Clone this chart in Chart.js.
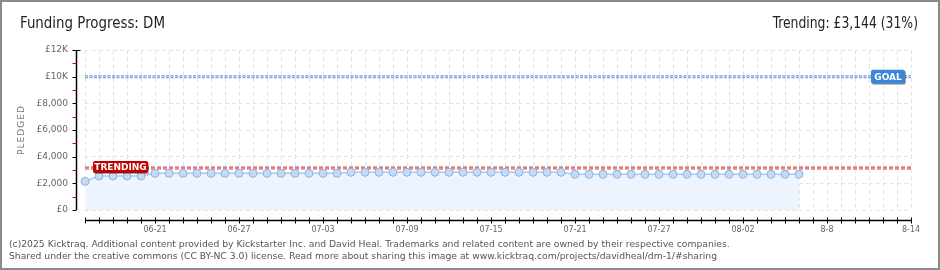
<!DOCTYPE html>
<html>
<head>
<meta charset="utf-8">
<script src="https://cdn.jsdelivr.net/npm/chart.js@4"></script>
<style>
  body { margin: 0; background: #fff; }
  #wrap { position: relative; width: 940px; height: 270px; overflow: hidden; }
  #chart { position: absolute; left: 0; top: 0; }
  #frame { position: absolute; left: 0; top: 0; width: 940px; height: 270px; box-sizing: border-box; border: 2px solid #8a8a8a; pointer-events: none; }
  .txt { position: absolute; white-space: nowrap; }
  #title { left: 20px; top: 13px; font: 16px "DejaVu Sans Condensed", sans-serif; color: #222; transform: scaleX(0.93); transform-origin: left center; }
  #trend { right: 22px; top: 13px; font: 16px "DejaVu Sans Condensed", sans-serif; color: #222; transform: scaleX(0.86); transform-origin: right center; }
  .foot { left: 9px; font: 9.5px "DejaVu Sans", sans-serif; color: #555; transform: scaleX(0.97); transform-origin: left center; }
</style>
</head>
<body>
<div id="wrap">
  <canvas id="chart" width="940" height="270"></canvas>
  <div id="title" class="txt">Funding Progress: DM</div>
  <div id="trend" class="txt">Trending: £3,144 (31%)</div>
  <div class="txt foot" style="top:238px">(c)2025 Kicktraq. Additional content provided by Kickstarter Inc. and David Heal. Trademarks and related content are owned by their respective companies.</div>
  <div class="txt foot" style="top:250px">Shared under the creative commons (CC BY-NC 3.0) license. Read more about sharing this image at www.kicktraq.com/projects/davidheal/dm-1/#sharing</div>
  <div id="frame"></div>
</div>
<script>
// daily categories, 06-16 .. 08-14
const days = [];
for (let d = new Date(2025, 5, 16); days.length < 60; d.setDate(d.getDate() + 1)) {
    days.push(String(d.getMonth() + 1).padStart(2, '0') + '-' + String(d.getDate()).padStart(2, '0'));
}

const xTickDays = ['06-21', '06-27', '07-03', '07-09', '07-15', '07-21', '07-27', '08-02', '08-08', '08-14'];
const xTickText = ['06-21', '06-27', '07-03', '07-09', '07-15', '07-21', '07-27', '08-02', '8-8', '8-14'];

const yTickValues = [0, 2000, 4000, 6000, 8000, 10000, 12000];
const yTickText = ['£0', '£2,000', '£4,000', '£6,000', '£8,000', '£10K', '£12K'];

// pledged per day (£)
const pledged = [
    2150, 2550, 2550, 2550, 2550, 2750, 2750, 2750, 2750, 2750,
    2750, 2750, 2750, 2750, 2750, 2750, 2750, 2750, 2750, 2830,
    2830, 2830, 2830, 2830, 2830, 2830, 2830, 2830, 2830, 2830,
    2830, 2830, 2830, 2830, 2830, 2680, 2680, 2680, 2680, 2680,
    2680, 2680, 2680, 2680, 2680, 2680, 2680, 2680, 2680, 2680,
    2680, 2680
];

const goal = 10000;
const trending = 3144;

const first = days[0], last = days[days.length - 1];
const flatLine = (v) => [{ x: first, y: v }, { x: last, y: v }];

const decor = {
    id: 'decor',
    afterDraw(chart) {
        const ctx = chart.ctx;
        const a = chart.chartArea;
        const xs = chart.scales.x, ys = chart.scales.y;
        ctx.save();

        // y axis line + ticks
        const axX = a.left - 8.5;
        ctx.strokeStyle = '#000';
        ctx.lineWidth = 1.5;
        ctx.beginPath();
        ctx.moveTo(axX, a.top); ctx.lineTo(axX, a.bottom);
        ctx.stroke();
        for (let v = 0; v <= 12000; v += 1000) {
            const y = Math.round(ys.getPixelForValue(v)) + 0.5;
            ctx.strokeStyle = v % 2000 === 0 ? '#000' : '#d40000';
            ctx.lineWidth = 1;
            ctx.beginPath();
            ctx.moveTo(axX - 4, y); ctx.lineTo(axX + (v === 12000 ? 4 : 0), y);
            ctx.stroke();
        }

        // x axis line + ticks
        const axY = a.bottom + 10.5;
        ctx.strokeStyle = '#000';
        ctx.lineWidth = 1.5;
        ctx.beginPath();
        ctx.moveTo(a.left, axY); ctx.lineTo(a.right, axY);
        ctx.stroke();
        ctx.lineWidth = 1;
        days.forEach((d, i) => {
            const x = Math.round(xs.getPixelForValue(i)) + 0.5;
            ctx.beginPath();
            ctx.moveTo(x, axY - 3); ctx.lineTo(x, axY + 3);
            ctx.stroke();
        });

        // axis title
        ctx.fillStyle = '#777';
        ctx.font = '9px "DejaVu Sans"';
        ctx.textAlign = 'center';
        ctx.textBaseline = 'middle';
        ctx.translate(22, (a.top + a.bottom) / 2);
        ctx.rotate(-Math.PI / 2);
        ctx.letterSpacing = '1px';
        ctx.fillText('PLEDGED', 0, 0);
        ctx.setTransform(1, 0, 0, 1, 0, 0);
        ctx.letterSpacing = '0px';

        // badges
        const badge = (text, x, y, w, h, bg) => {
            ctx.fillStyle = 'rgba(0,0,0,0.35)';
            ctx.beginPath(); ctx.roundRect(x + 1, y + 1, w, h, 2); ctx.fill();
            ctx.fillStyle = bg;
            ctx.beginPath(); ctx.roundRect(x, y, w, h, 2); ctx.fill();
            ctx.fillStyle = '#fff';
            ctx.font = 'bold 9px "DejaVu Sans"';
            ctx.textAlign = 'center';
            ctx.textBaseline = 'middle';
            ctx.fillText(text, x + w / 2, y + h / 2 + 0.5);
        };
        const ty = ys.getPixelForValue(trending);
        badge('TRENDING', a.left + 8, ty - 7, 55, 12, '#c00000');
        const gy = ys.getPixelForValue(goal);
        badge('GOAL', a.right - 40, gy - 7, 34, 14, '#3a87d8');

        ctx.restore();
    }
};

new Chart(document.getElementById('chart'), {
    type: 'line',
    data: {
        labels: days,
        datasets: [
            { data: flatLine(goal), borderColor: '#6f9fd8', borderWidth: 3, borderDash: [3, 1.5], pointRadius: 0, fill: false, order: 4 },
            { data: flatLine(goal), borderColor: '#c3d8f2', borderWidth: 1, borderDash: [3, 1.5], pointRadius: 0, fill: false, order: 3 },
            { data: flatLine(trending), borderColor: '#cc4e52', borderWidth: 3, borderDash: [4, 2], pointRadius: 0, fill: false, order: 4 },
            { data: flatLine(trending), borderColor: '#f2b6b6', borderWidth: 1, borderDash: [4, 2], pointRadius: 0, fill: false, order: 3 },
            {
                data: pledged,
                fill: 'origin',
                backgroundColor: '#edf4fd',
                borderColor: '#a9c9ee',
                borderWidth: 1.5,
                tension: 0,
                pointRadius: 4,
                pointBackgroundColor: '#c4dbf5',
                pointBorderColor: '#8fb3df',
                pointBorderWidth: 1,
                order: 1
            }
        ]
    },
    options: {
        responsive: false,
        animation: false,
        layout: { padding: { left: 0, right: 29, top: 50, bottom: 0 } },
        plugins: { legend: { display: false }, tooltip: { enabled: false } },
        scales: {
            x: {
                type: 'category',
                offset: false,
                afterFit: s => { s.height = 60; },
                grid: { color: '#e4e4e4', drawTicks: false },
                border: { display: false, dash: [4, 3] },
                ticks: {
                    autoSkip: false,
                    maxRotation: 0,
                    padding: 15,
                    color: '#666',
                    font: { family: 'DejaVu Sans', size: 8 },
                    callback: (v, i) => {
                        const k = xTickDays.indexOf(days[i]);
                        return k >= 0 ? xTickText[k] : '';
                    }
                }
            },
            y: {
                min: 0,
                max: 12000,
                afterFit: s => { s.width = 85; },
                grid: { color: '#e4e4e4', drawTicks: false },
                border: { display: false, dash: [4, 3] },
                ticks: {
                    stepSize: 2000,
                    padding: 17,
                    color: '#666',
                    font: { family: 'DejaVu Sans', size: 9 },
                    callback: v => yTickText[yTickValues.indexOf(v)]
                }
            }
        }
    },
    plugins: [decor]
});
</script>
</body>
</html>
